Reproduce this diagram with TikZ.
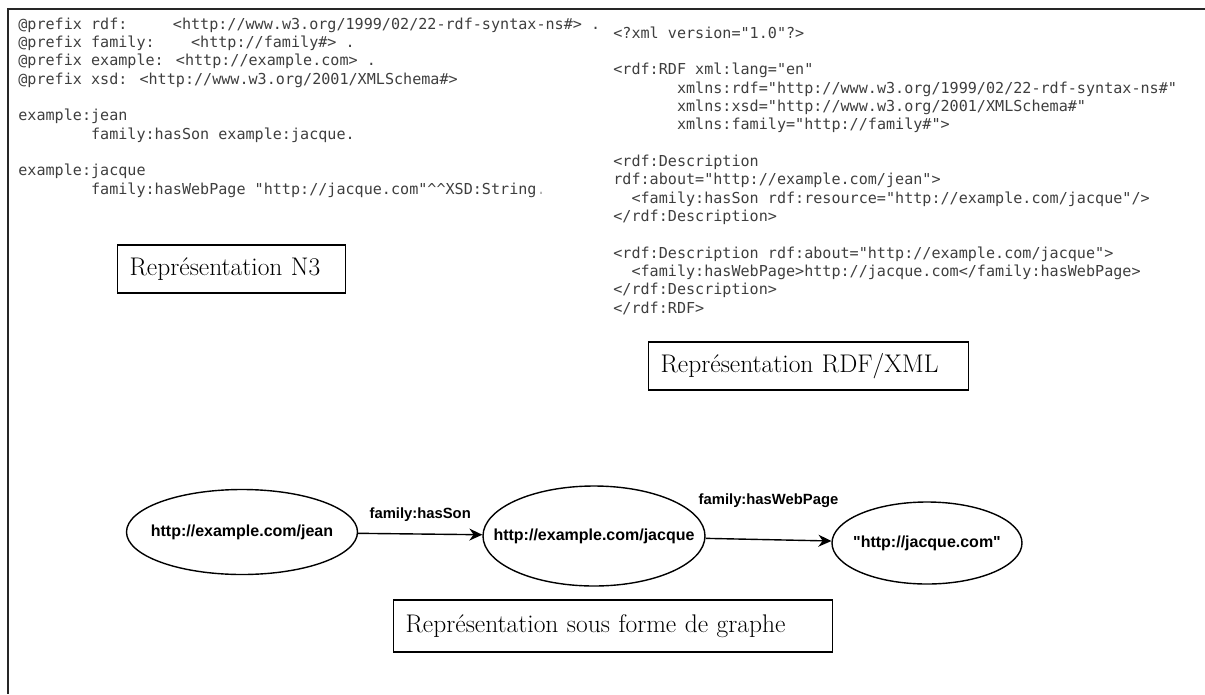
\documentclass[tikz,border=0pt]{standalone}
\usepackage{fontspec}
\setsansfont{Liberation Sans}[Ligatures=TeXOff]
\newfontfamily\codefont{DejaVu Sans Mono}
\usetikzlibrary{shapes.geometric,arrows.meta}

\definecolor{codegray}{RGB}{62,62,62}

\tikzset{every picture/.style={line width=0.75pt}}
\tikzset{
  codeblock/.style={anchor=base west, inner sep=0pt, align=left, text=codegray,
    font=\codefont\fontsize{15.1}{18.33}\selectfont},
  labelbox/.style={draw, line width=1.3pt, anchor=west, inner xsep=12pt, minimum height=48pt,
    align=left, font=\fontsize{25.5}{30}\selectfont},
  resource/.style={draw, ellipse, line width=1.4pt, inner sep=0pt,
    font=\sffamily\bfseries\fontsize{16}{19}\selectfont},
  prop/.style={inner sep=0pt, font=\sffamily\bfseries\fontsize{14.8}{17}\selectfont},
  link/.style={line width=1.4pt, -{Stealth[length=13pt,width=12pt]}}
}
\newcommand{\restext}[1]{\makebox[0pt]{#1}}

\begin{document}
\begin{tikzpicture}[x=1pt,y=1pt,yscale=-1,xscale=1]
\useasboundingbox (0,0) rectangle (1205,694);

%Frame (top and left only)
\draw [line width=1.5pt, black!85]   (1205,9) -- (8,9) -- (8,694) ;

% N3 Text (anchored on its last baseline)
\node [codeblock] (nthree) at (18,194) {%
@prefix rdf:~~~~~<http://www.w3.org/1999/02/22-rdf-syntax-ns\#> .\\
@prefix family:~~~~<http://family\#> .\\
@prefix example: <http://example.com> .\\
@prefix xsd: <http://www.w3.org/2001/XMLSchema\#>\\[18.33pt]
example:jean\\
~~~~~~~~family:hasSon example:jacque.\\[18.33pt]
example:jacque\\
~~~~~~~~family:hasWebPage "http://jacque.com"\textasciicircum\textasciicircum XSD:String\textcolor{gray!60}{.}};

% RDF/XML Text (anchored on its last baseline)
\node [codeblock] (rdfxml) at (613,313) {%
<?xml version="1.0"?>\\[18.33pt]
<rdf:RDF xml:lang="en"\\
~~~~~~~xmlns:rdf="http://www.w3.org/1999/02/22-rdf-syntax-ns\#"\\
~~~~~~~xmlns:xsd="http://www.w3.org/2001/XMLSchema\#"\\
~~~~~~~xmlns:family="http://family\#">\\[18.33pt]
<rdf:Description\\
rdf:about="http://example.com/jean">\\
~~<family:hasSon rdf:resource="http://example.com/jacque"/>\\
</rdf:Description>\\[18.33pt]
<rdf:Description rdf:about="http://example.com/jacque">\\
~~<family:hasWebPage>http://jacque.com</family:hasWebPage>\\
</rdf:Description>\\
</rdf:RDF>};

% Caption Boxes
\node [labelbox, text width=204pt] (capnthree) at (117,269) {Représentation N3};
\node [labelbox, text width=296pt] (caprdf) at (648,366) {Représentation RDF/XML};
\node [labelbox, text width=415pt, minimum height=52pt] (capgraph) at (393,626) {Représentation sous forme de graphe};

% Graph Nodes
\node [resource, minimum width=231pt, minimum height=85pt] (jean) at (242,532) {\restext{http://example.com/jean}};
\node [resource, minimum width=222pt, minimum height=100pt] (jacque) at (594,536) {\restext{http://example.com/jacque}};
\node [resource, minimum width=190pt, minimum height=82pt] (web) at (927,543) {\restext{"http://jacque.com"}};

% Graph Edges
\draw [link] (jean) -- node [prop, midway, above=12pt] (hasson) {family:hasSon} (jacque) ;
\draw [link] (jacque) -- node [prop, midway, above=31pt] (haswebpage) {family:hasWebPage} (web) ;

\end{tikzpicture}
\end{document}
